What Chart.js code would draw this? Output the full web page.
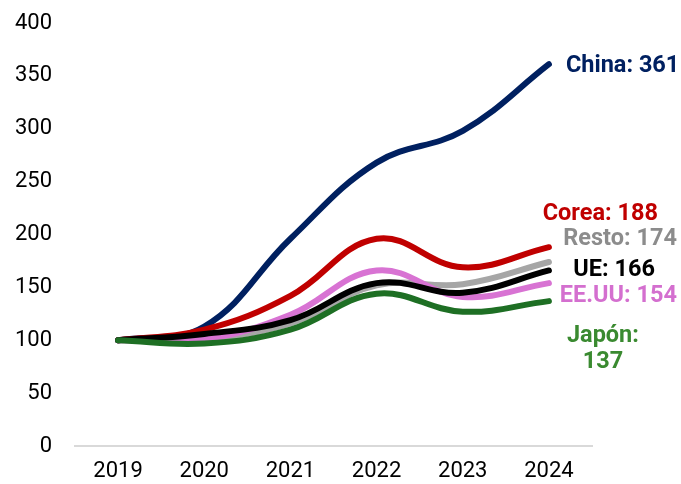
<!DOCTYPE html>
<html>
<head>
<meta charset="utf-8">
<script src="https://cdn.jsdelivr.net/npm/chart.js@4"></script>
<style>
  html, body { margin: 0; padding: 0; background: #fff; }
  #wrap { width: 681px; height: 484px; }
</style>
</head>
<body>
<div id="wrap"><canvas id="chart" width="681" height="484"></canvas></div>
<script>
const years = ["2019", "2020", "2021", "2022", "2023", "2024"];
const china = [100, 113, 196, 268, 298, 361];
const corea = [100, 110, 142, 196, 169, 188];
const eeuu = [100, 101, 124, 166, 141, 154];
const ue = [100, 106, 119, 154, 145, 166];
const japon = [100, 97, 110, 144, 127, 137];
const resto = [100, 101, 116, 152, 153, 174];
const yTicks = [0, 50, 100, 150, 200, 250, 300, 350, 400];

// end labels: text lines, colour, alignment and offset from the last point
const endLabels = {
    "China": { lines: ["China: 361"], color: "#002060", align: "left", dx: 17, dy: 2 },
    "Corea": { lines: ["Corea: 188"], color: "#C00000", align: "right", dx: 109, dy: -33 },
    "Resto": { lines: ["Resto: 174"], color: "#8C8C8C", align: "right", dx: 128, dy: -23 },
    "UE": { lines: ["UE: 166"], color: "#000000", align: "right", dx: 106, dy: 0 },
    "EE.UU": { lines: ["EE.UU: 154"], color: "#D46FCF", align: "right", dx: 128, dy: 13 },
    "Japón": { lines: ["Japón:", "137"], color: "#3A8A30", align: "center", dx: 54, dy: 35 }
};

const endLabelPlugin = {
    id: "endLabels",
    afterDatasetsDraw(chart) {
        const ctx = chart.ctx;
        ctx.save();
        ctx.font = "bold 23.5px Roboto";
        ctx.textBaseline = "middle";
        chart.data.datasets.forEach((ds, i) => {
            const cfg = endLabels[ds.label];
            const meta = chart.getDatasetMeta(i);
            const pt = meta.data[meta.data.length - 1];
            ctx.fillStyle = cfg.color;
            ctx.textAlign = cfg.align;
            cfg.lines.forEach((line, j) => {
                ctx.fillText(line, pt.x + cfg.dx, pt.y + cfg.dy + j * 26);
            });
        });
        ctx.restore();
    }
};

function makeSet(label, data, color) {
    return {
        label: label,
        data: data,
        borderColor: color,
        backgroundColor: color,
        borderWidth: 6,
        borderCapStyle: "round",
        borderJoinStyle: "round",
        pointRadius: 0,
        tension: 0.4,
        fill: false
    };
}

new Chart(document.getElementById("chart"), {
    type: "line",
    data: {
        labels: years,
        datasets: [
            makeSet("Japón", japon, "#1E6F24"),
            makeSet("UE", ue, "#000000"),
            makeSet("EE.UU", eeuu, "#D873D3"),
            makeSet("Corea", corea, "#C00000"),
            makeSet("China", china, "#002060"),
            makeSet("Resto", resto, "#A6A6A6")
        ]
    },
    options: {
        responsive: false,
        animation: false,
        layout: { padding: { top: 23, right: 89, bottom: 0, left: 0 } },
        plugins: {
            legend: { display: false },
            tooltip: { enabled: false }
        },
        scales: {
            x: {
                offset: true,
                grid: { display: false, drawTicks: false },
                border: { display: true, color: "#D9D9D9", width: 2 },
                ticks: { color: "#000", font: { family: "Roboto", size: 22 }, padding: 12 },
                afterFit(scale) {
                    scale.height = 38;
                    scale.paddingLeft = 0;
                    scale.paddingRight = 0;
                }
            },
            y: {
                min: 0,
                max: 400,
                afterBuildTicks(scale) { scale.ticks = yTicks.map(v => ({ value: v })); },
                grid: { display: false, drawTicks: false },
                border: { display: false },
                ticks: { color: "#000", font: { family: "Roboto", size: 22 }, padding: 23 },
                afterFit(scale) {
                    scale.width = 75;
                    scale.paddingTop = 0;
                    scale.paddingBottom = 0;
                }
            }
        }
    },
    plugins: [endLabelPlugin]
});
</script>
</body>
</html>
